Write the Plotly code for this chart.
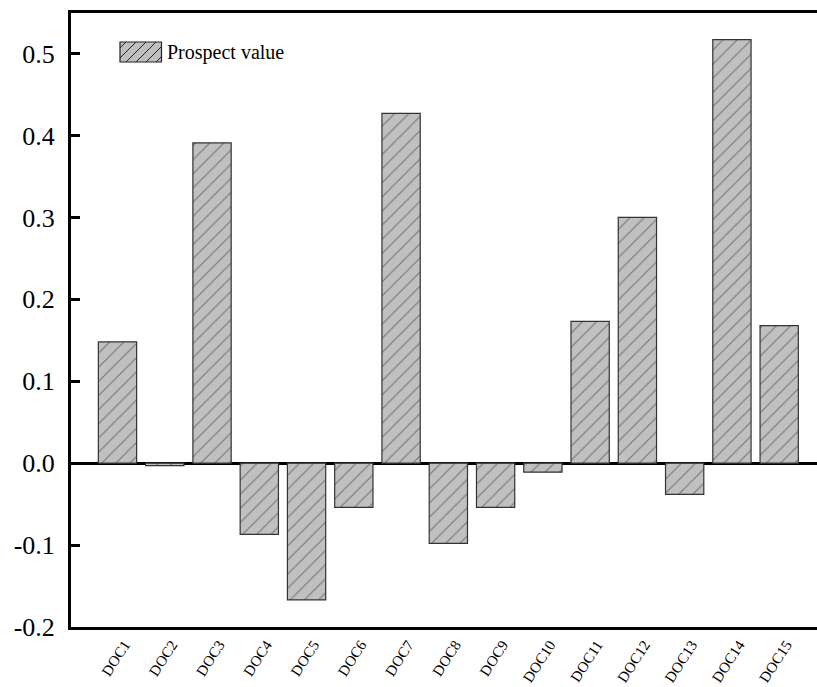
import plotly.graph_objects as go

categories = ["DOC1", "DOC2", "DOC3", "DOC4", "DOC5", "DOC6", "DOC7", "DOC8",
              "DOC9", "DOC10", "DOC11", "DOC12", "DOC13", "DOC14", "DOC15"]
prospect_values = [0.148, -0.003, 0.391, -0.087, -0.167, -0.054, 0.427, -0.098,
                   -0.054, -0.011, 0.173, 0.300, -0.038, 0.517, 0.168]
y_ticks = [-0.2, -0.1, 0.0, 0.1, 0.2, 0.3, 0.4, 0.5]
y_tick_labels = ["-0.2", "-0.1", "0.0", "0.1", "0.2", "0.3", "0.4", "0.5"]
series_name = "Prospect value"

serif = "Liberation Serif"
bar_fill = "#c0c0c0"

# plot-area geometry in page pixels (page body margin removed below)
PLOT_L, PLOT_R, PLOT_T, PLOT_B = 71, 817, 13, 627
FIG_W, FIG_H = 817, 687


def px_to_paper(px, py):
    return ((px - PLOT_L) / (PLOT_R - PLOT_L), (PLOT_B - py) / (PLOT_B - PLOT_T))


fig = go.Figure()
fig.add_trace(go.Bar(
    x=list(range(len(categories))),
    y=prospect_values,
    name=series_name,
    width=0.81,
    showlegend=False,
    marker=dict(
        color=bar_fill,
        line=dict(color="#333333", width=1.2),
        pattern=dict(shape="/", fgcolor="#222222", bgcolor=bar_fill,
                     size=10, solidity=0.1, fillmode="overlay"),
    ),
))

# manual legend (swatch with hatch + label), positioned in paper coords
sx0, sy0, sx1, sy1 = 120, 42, 161.5, 62
(px0, py0), (px1, py1) = px_to_paper(sx0, sy1), px_to_paper(sx1, sy0)
shapes = [dict(type="rect", xref="paper", yref="paper", x0=px0, y0=py0, x1=px1, y1=py1,
               fillcolor=bar_fill, line=dict(color="#222222", width=1.2), layer="above")]
c = sx0 + sy0 + 6
while c < sx1 + sy1:
    pts = []
    for x in (sx0, sx1):
        y = c - x
        if sy0 <= y <= sy1:
            pts.append((x, y))
    for y in (sy0, sy1):
        x = c - y
        if sx0 <= x <= sx1:
            pts.append((x, y))
    pts = sorted(set(pts))
    if len(pts) >= 2:
        a = px_to_paper(*pts[0])
        b = px_to_paper(*pts[-1])
        shapes.append(dict(type="line", xref="paper", yref="paper",
                           x0=a[0], y0=a[1], x1=b[0], y1=b[1],
                           line=dict(color="#222222", width=1), layer="above"))
    c += 10

tx, ty = px_to_paper(165, 52)
annotations = [dict(text=series_name, xref="paper", yref="paper", x=tx, y=ty,
                    xanchor="left", yanchor="middle", showarrow=False,
                    font=dict(family=serif, size=20, color="black"))]

fig.update_layout(
    width=FIG_W, height=FIG_H,
    margin=dict(l=PLOT_L, r=FIG_W - PLOT_R, t=PLOT_T, b=FIG_H - PLOT_B),
    plot_bgcolor="white", paper_bgcolor="white",
    showlegend=False,
    shapes=shapes,
    annotations=annotations,
    font=dict(family=serif, color="black"),
)
fig.update_xaxes(
    range=[-0.984, 14.80],
    tickmode="array",
    tickvals=list(range(len(categories))),
    ticktext=categories,
    tickangle=-57,
    ticklabelshift=7,
    ticklabelstandoff=0,
    tickfont=dict(family=serif, size=15, color="black"),
    showline=True, linecolor="black", linewidth=3, mirror=True,
    ticks="", showgrid=False, zeroline=False,
    automargin=False,
)
fig.update_yaxes(
    range=[-0.2, 0.5496],
    tickmode="array",
    tickvals=y_ticks,
    ticktext=y_tick_labels,
    tickfont=dict(family=serif, size=26, color="black"),
    ticklabelstandoff=8,
    showline=True, linecolor="black", linewidth=3, mirror=False,
    ticks="inside", ticklen=9, tickwidth=3, tickcolor="black",
    showgrid=False,
    zeroline=True, zerolinecolor="black", zerolinewidth=3,
    automargin=False,
)

fig.write_html(
    "out.html",
    config={"displayModeBar": False},
    post_script="document.body.style.margin='0';document.body.style.overflow='hidden';",
)
